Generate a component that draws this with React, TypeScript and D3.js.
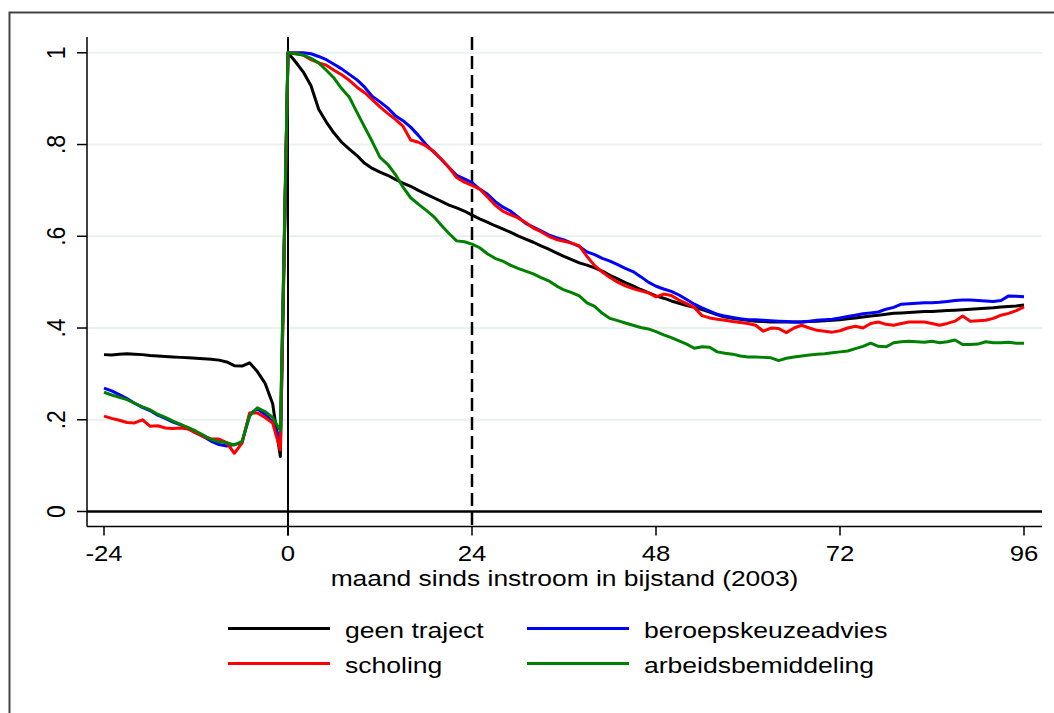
import React from "react";
import * as d3 from "d3";

// months since entry into welfare, -24 .. 96
const months = d3.range(-24, 97);

// share on welfare per month (pre-period -24..-1, then 0..96)
const geenTraject = [
  .342, .341, .343, .344, .343, .342, .340, .339, .338, .337, .336, .335, .334, .333, .332, .330, .326, .318, .317, .324, .305, .280, .235, .120,
  1.0, .980, .958, .928, .877, .849, .825, .805, .790, .776, .759, .748, .740, .733, .724, .716, .709, .700, .692, .684, .676, .668, .662, .655, .646,
  .638, .631, .623, .616, .609, .601, .594, .587, .579, .572, .564, .556, .549, .542, .537, .531, .524, .515, .507, .499,
  .492, .484, .477, .470, .465, .459, .454, .449, .445, .440, .435, .429, .424, .421, .419, .417, .415, .414,
  .413, .413, .413, .413, .413, .414, .415, .416, .417, .418, .420, .422, .424, .426, .428, .430, .432, .433, .434, .435,
  .436, .436, .437, .438, .439, .440, .441, .442, .443, .444, .446, .447, .448, .450,
];

const beroepskeuzeadvies = [
  .269, .263, .255, .246, .236, .227, .220, .210, .203, .195, .189, .180, .172, .163, .153, .146, .143, .146, .150, .212, .224, .212, .195, .158,
  1.0, 1.0, 1.0, .998, .992, .985, .975, .965, .953, .941, .925, .905, .893, .880, .863, .852, .838, .820, .800, .784, .768, .750, .733, .725, .717,
  .703, .692, .676, .664, .655, .642, .628, .620, .612, .603, .597, .592, .585, .578, .566, .560, .552, .546, .538, .530,
  .523, .512, .500, .491, .485, .480, .472, .462, .452, .444, .437, .430, .426, .423, .420, .418, .418, .417,
  .416, .415, .414, .413, .413, .415, .417, .418, .419, .422, .425, .428, .431, .433, .435, .441, .445, .452, .453, .454,
  .455, .455, .456, .458, .460, .461, .461, .460, .459, .458, .460, .470, .469, .468,
];

const scholing = [
  .208, .203, .199, .194, .193, .200, .186, .187, .182, .181, .182, .180, .171, .163, .158, .158, .150, .127, .149, .215, .215, .205, .193, .134,
  1.0, .998, .995, .985, .978, .973, .962, .952, .940, .925, .913, .898, .882, .868, .855, .840, .810, .805, .797, .785, .768, .750, .728, .718, .711,
  .703, .686, .668, .655, .647, .640, .630, .618, .610, .600, .593, .589, .585, .579, .556, .536, .522, .510, .500, .492,
  .486, .481, .477, .468, .474, .471, .461, .453, .445, .427, .422, .419, .417, .414, .412, .410, .406, .393,
  .400, .399, .390, .400, .406, .400, .395, .393, .391, .394, .400, .404, .400, .410, .413, .408, .406, .410, .413, .413,
  .413, .410, .406, .410, .415, .426, .415, .416, .417, .421, .428, .432, .438, .446,
];

const arbeidsbemiddeling = [
  .260, .254, .249, .244, .236, .228, .222, .212, .205, .197, .190, .183, .175, .166, .157, .152, .150, .145, .153, .208, .226, .218, .205, .176,
  1.0, .998, .995, .988, .978, .962, .945, .922, .903, .870, .838, .806, .772, .757, .735, .707, .684, .670, .657, .643, .624, .606, .590, .588, .583,
  .575, .562, .552, .546, .537, .530, .524, .518, .510, .503, .492, .483, .477, .470, .455, .447, .432, .421, .416, .411,
  .406, .401, .398, .392, .385, .379, .372, .365, .356, .359, .358, .348, .345, .343, .339, .337, .337, .336,
  .335, .329, .334, .337, .339, .341, .343, .344, .346, .348, .350, .355, .360, .367, .360, .359, .368, .370, .371, .370,
  .369, .371, .368, .370, .374, .364, .364, .365, .370, .368, .368, .369, .367, .367,
];

const seriesNames = ["geen traject", "beroepskeuzeadvies", "scholing", "arbeidsbemiddeling"];
const seriesValues = [geenTraject, beroepskeuzeadvies, scholing, arbeidsbemiddeling];
const seriesColors = ["#000000", "#0000ff", "#ff0000", "#008000"];

const xTicks = [-24, 0, 24, 48, 72, 96];
const yTicks = [0, 0.2, 0.4, 0.6, 0.8, 1];
const yTickLabels = ["0", ".2", ".4", ".6", ".8", "1"];
const xTitle = "maand sinds instroom in bijstand (2003)";

// legend order (2 columns)
const legendOrder = [0, 1, 2, 3];

const W = 1054;
const H = 713;
const FONT = "'Liberation Sans', Arial, sans-serif";

const x = d3.scaleLinear().domain([-24, 96]).range([104, 1024]);
const y = d3.scaleLinear().domain([0, 1]).range([511.5, 52.8]);

const plotLeft = 87;
const plotRight = 1042;
const plotTop = 37;
const plotBottom = 526.5;

// source picture is slightly stretched horizontally, hence the scale on text
function Label({ tx, ty, anchor = "middle", rotate = 0, size = 23, sx = 1.12, children }: any) {
  return (
    <g transform={`translate(${tx},${ty}) scale(${sx},1) rotate(${rotate})`}>
      <text x={0} y={0} textAnchor={anchor} fontFamily={FONT} fontSize={size} fill="#000">
        {children}
      </text>
    </g>
  );
}

export default function App() {
  const line = d3
    .line<number>()
    .x((_, i) => x(months[i]))
    .y((d) => y(d));

  return (
    <svg
      width={W}
      height={H}
      style={{ position: "absolute", left: 0, top: 0, background: "#fff" }}
    >
      <rect x={0} y={0} width={W} height={H} fill="#fff" />
      {/* outer frame */}
      <rect x={9.5} y={12.5} width={W + 50} height={H + 50} fill="none" stroke="#444" strokeWidth={2} />

      {/* gridlines */}
      {yTicks
        .filter((t) => t > 0)
        .map((t) => (
          <line key={t} x1={plotLeft} x2={plotRight} y1={y(t)} y2={y(t)} stroke="#e9f1f2" strokeWidth={2} />
        ))}

      {/* reference lines */}
      <line x1={x(0)} x2={x(0)} y1={plotTop} y2={plotBottom + 9} stroke="#000" strokeWidth={2} />
      <line
        x1={x(24)}
        x2={x(24)}
        y1={plotTop}
        y2={plotBottom}
        stroke="#000"
        strokeWidth={2.5}
        strokeDasharray="13,6"
      />
      <line x1={plotLeft} x2={plotRight} y1={y(0)} y2={y(0)} stroke="#000" strokeWidth={2.5} />

      {/* series */}
      {seriesValues.map((vals, i) => (
        <path
          key={seriesNames[i]}
          d={line(vals) || ""}
          fill="none"
          stroke={seriesColors[i]}
          strokeWidth={3}
          strokeLinejoin="round"
        />
      ))}

      {/* y axis */}
      <line x1={plotLeft} x2={plotLeft} y1={plotTop} y2={plotBottom} stroke="#000" strokeWidth={1.5} />
      {yTicks.map((t, i) => (
        <g key={t}>
          <line x1={plotLeft - 10} x2={plotLeft} y1={y(t)} y2={y(t)} stroke="#000" strokeWidth={1.5} />
          <Label tx={65} ty={y(t)} rotate={-90}>
            {yTickLabels[i]}
          </Label>
        </g>
      ))}

      {/* x axis */}
      <line x1={plotLeft} x2={plotRight} y1={plotBottom} y2={plotBottom} stroke="#000" strokeWidth={1.5} />
      {xTicks.map((t) => (
        <g key={t}>
          <line x1={x(t)} x2={x(t)} y1={plotBottom} y2={plotBottom + 9} stroke="#000" strokeWidth={1.5} />
          <Label tx={x(t)} ty={561}>
            {String(t)}
          </Label>
        </g>
      ))}
      <Label tx={(plotLeft + plotRight) / 2} ty={586} size={22} sx={1.2}>
        {xTitle}
      </Label>

      {/* legend */}
      {legendOrder.map((idx, k) => {
        const col = k % 2;
        const row = Math.floor(k / 2);
        const lx = col === 0 ? 228 : 527;
        const ly = row === 0 ? 628.5 : 663.5;
        return (
          <g key={seriesNames[idx]}>
            <line x1={lx} x2={lx + 102} y1={ly} y2={ly} stroke={seriesColors[idx]} strokeWidth={3} />
            <Label tx={lx + 117} ty={ly + 9.5} anchor="start" size={22.5} sx={1.18}>
              {seriesNames[idx]}
            </Label>
          </g>
        );
      })}
    </svg>
  );
}
